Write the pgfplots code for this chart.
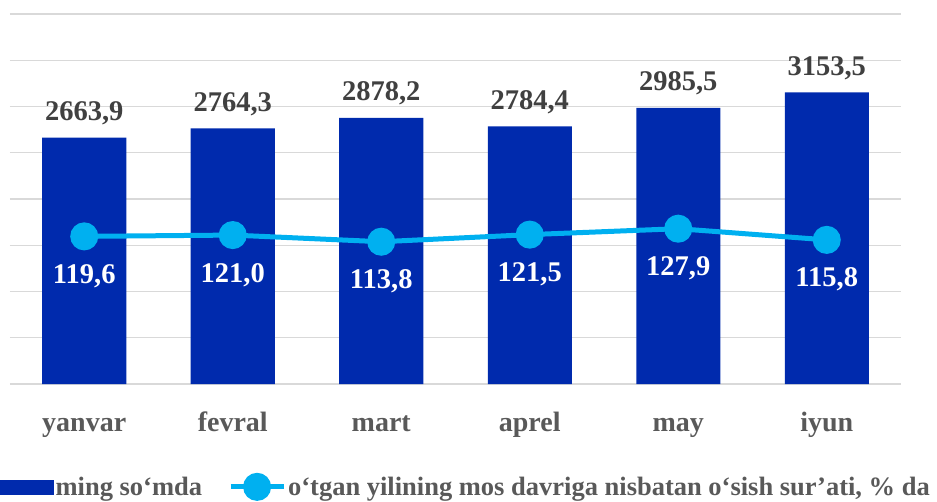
\documentclass[border=0pt]{standalone}
\usepackage{fontspec}
\setmainfont{Liberation Serif}
\usepackage{pgfplots}
\pgfplotsset{compat=1.18}
\definecolor{barblue}{HTML}{002AAD}
\definecolor{linecol}{HTML}{00B0F0}
\definecolor{lblgray}{HTML}{404040}
\definecolor{catgray}{HTML}{595959}
\definecolor{gridgray}{HTML}{D9D9D9}
\newcommand{\bigfont}{\fontsize{28.5pt}{32pt}\selectfont\bfseries}
\newcommand{\catfont}{\fontsize{28pt}{32pt}\selectfont\bfseries}
\newcommand{\legfont}{\fontsize{26.5pt}{30pt}\selectfont\bfseries}
\begin{document}
\begin{tikzpicture}
\path[use as bounding box] (0pt,0pt) rectangle (937pt,501pt);
\begin{axis}[
  at={(10pt,117pt)}, anchor=south west,
  scale only axis, width=891pt, height=370pt,
  xmin=-0.5, xmax=5.5, ymin=0, ymax=4000,
  ytick={0,500,...,4000}, yticklabels={},
  ymajorgrids, grid style={gridgray, line width=1.3pt},
  axis line style={draw=none}, major tick style={draw=none},
  xtick={0,...,5}, xticklabels={yanvar,fevral,mart,aprel,may,iyun},
  xticklabel style={font=\catfont, text=catgray, anchor=base, yshift=-43pt},
  ybar, bar width=84pt,
  nodes near coords, point meta=explicit symbolic,
  every node near coord/.append style={font=\bigfont, text=lblgray, anchor=base, yshift=17pt, inner sep=0pt},
]
\addplot[fill=barblue, draw=none] coordinates {
  (0,2663.9) [2663,9]
  (1,2764.3) [2764,3]
  (2,2878.2) [2878,2]
  (3,2784.4) [2784,4]
  (4,2985.5) [2985,5]
  (5,3153.5) [3153,5]
};
\end{axis}
\begin{axis}[
  at={(10pt,117pt)}, anchor=south west,
  scale only axis, width=891pt, height=370pt,
  xmin=-0.5, xmax=5.5, ymin=-40, ymax=360,
  hide axis,
  legend columns=2,
  legend style={at={(axis description cs:-0.0112,-0.278)}, anchor=west,
    draw=none, fill=none, font=\legfont, text=catgray, inner sep=0pt,
    nodes={inner sep=2pt},
    /tikz/every even column/.append style={column sep=24pt}},
  legend cell align=left,
]
\addlegendimage{legend image code/.code={\fill[barblue] (0pt,-7pt) rectangle (53pt,7pt);}}
\addlegendentry{ming so‘mda}
\addplot[linecol, line width=5pt, mark=*, mark size=11.5pt,
  mark options={fill=linecol, draw=none},
  nodes near coords, point meta=explicit symbolic,
  every node near coord/.append style={font=\bigfont, text=white, anchor=base, yshift=-47pt, inner sep=0pt},
  legend image code/.code={\draw[linecol, line width=5pt] (0pt,0pt) -- (53pt,0pt); \fill[linecol] (26.5pt,0pt) circle (11.5pt);}
] coordinates {
  (0,119.6) [119,6]
  (1,121.0) [121,0]
  (2,113.8) [113,8]
  (3,121.5) [121,5]
  (4,127.9) [127,9]
  (5,115.8) [115,8]
};
\addlegendentry{o‘tgan yilining mos davriga nisbatan o‘sish sur’ati, \% da}
\end{axis}
\end{tikzpicture}
\end{document}
